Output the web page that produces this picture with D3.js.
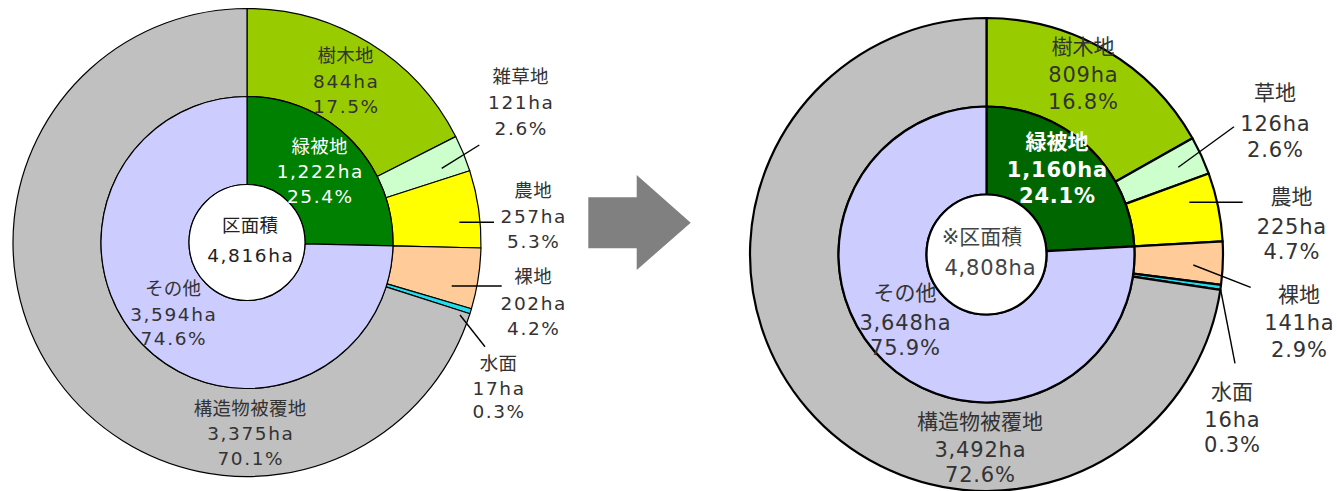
<!DOCTYPE html>
<html><head><meta charset="utf-8">
<script src="https://cdn.jsdelivr.net/npm/d3@7"></script>
<style>html,body{margin:0;padding:0;background:#fff;}svg{display:block;}</style>
</head><body><svg id="chart" width="1337" height="491"></svg>
<script>
// ---- data ----
const outerCategoriesL = ["樹木地","雑草地","農地","裸地","水面","構造物被覆地"];
const outerValuesL = [844,121,257,202,17,3375];
const outerPctL = ["17.5%","2.6%","5.3%","4.2%","0.3%","70.1%"];
const innerCategoriesL = ["緑被地","その他"];
const innerValuesL = [1222,3594];
const innerPctL = ["25.4%","74.6%"];
const totalLabelL = "区面積";
const totalL = 4816;

const outerCategoriesR = ["樹木地","草地","農地","裸地","水面","構造物被覆地"];
const outerValuesR = [809,126,225,141,16,3492];
const outerPctR = ["16.8%","2.6%","4.7%","2.9%","0.3%","72.6%"];
const innerCategoriesR = ["緑被地","その他"];
const innerValuesR = [1160,3648];
const innerPctR = ["24.1%","75.9%"];
const totalLabelR = "※区面積";
const totalR = 4808;

// ---- styles / layout ----
const outerColors = ["#99CC00","#CCFFCC","#FFFF00","#FFCC99","#22DDEE","#C0C0C0"];
const innerColorsL = ["#008000","#CCCCFF"];
const innerColorsR = ["#006600","#CCCCFF"];

const svg = d3.select("#chart");
const fmt = d3.format(",");
const pie = d3.pie().sort(null).value(d => d);

function drawDonut(cfg){
  const g = svg.append("g").attr("transform", `translate(${cfg.cx},${cfg.cy})`);
  const outerArc = d3.arc().innerRadius(cfg.r1).outerRadius(cfg.r2);
  const innerArc = d3.arc().innerRadius(cfg.r0).outerRadius(cfg.r1);
  g.selectAll("path.o").data(pie(cfg.outerVals)).join("path").attr("class","o")
    .attr("d", outerArc).attr("fill", (d,i)=>outerColors[i])
    .attr("stroke","#000").attr("stroke-width",cfg.sw).attr("stroke-linejoin","round");
  g.selectAll("path.i").data(pie(cfg.innerVals)).join("path").attr("class","i")
    .attr("d", innerArc).attr("fill", (d,i)=>cfg.innerColors[i])
    .attr("stroke","#000").attr("stroke-width",cfg.sw).attr("stroke-linejoin","round");
  g.append("circle").attr("r", cfg.r0).attr("fill","#fff").attr("stroke","#000").attr("stroke-width",cfg.sw);

  // leader lines
  cfg.leaders.forEach(l => {
    g.append("line").attr("x1",l[0]).attr("y1",l[1]).attr("x2",l[2]).attr("y2",l[3])
      .attr("stroke","#000").attr("stroke-width",1.4);
  });

  function label(x, ys, lines, opts, firstIsKanji){
    const t = g.append("text").attr("text-anchor","middle")
      .attr("font-family","'DejaVu Sans','Noto Sans CJK JP',sans-serif")
      .attr("font-size", cfg.fs)
      .attr("fill", opts && opts.fill || "#333")
      .attr("font-weight", opts && opts.bold ? "bold" : "normal");
    lines.forEach((s,i) => {
      const ls = (i===0 && firstIsKanji) ? cfg.lsK : cfg.lsN;
      t.append("tspan").attr("x", x + ls/2).attr("y", ys[i]).attr("letter-spacing", ls)
        .attr("dominant-baseline","central").text(s);
    });
  }
  cfg.outerCats.forEach((c,i) => {
    const p = cfg.outerLabelPos[i];
    label(p[0], p.slice(1), [c, fmt(cfg.outerVals[i])+"ha", cfg.outerPct[i]], null, true);
  });
  cfg.innerCats.forEach((c,i) => {
    const p = cfg.innerLabelPos[i];
    label(p[0], p.slice(1), [c, fmt(cfg.innerVals[i])+"ha", cfg.innerPct[i]],
      i===0 ? {fill:"#fff", bold:cfg.boldGreen} : null, true);
  });
  const tp = cfg.totalPos;
  label(tp[0], [tp[1]], [cfg.totalLabel], {fill: cfg.totalColor}, true);
  label(tp[2], [tp[3]], [fmt(cfg.total)+"ha"], {fill: cfg.totalColor}, false);
}

drawDonut({
  cx:247, cy:242.5, r0:58, r1:146, r2:234, sw:1.2, fs:18.5, lsK:0.3, lsN:1.6, boldGreen:false,
  outerCats:outerCategoriesL, outerVals:outerValuesL, outerPct:outerPctL,
  innerCats:innerCategoriesL, innerVals:innerValuesL, innerPct:innerPctL,
  innerColors:innerColorsL, totalLabel:totalLabelL, total:totalL, totalColor:"#222",
  outerLabelPos:[[98.5,-187.5,-161.5,-136.5],[273.5,-165.8,-139.8,-114.2],[286,-51.8,-26.3,-0.8],
                 [286,34.2,60.5,85.5],[251.3,120.5,145.5,169.2],[3,165.5,190.5,215.5]],
  innerLabelPos:[[72.5,-95.8,-70.8,-46.5],[-74,45.5,71.5,95.5]],
  totalPos:[3,-17.5,3,12.5],
  leaders:[[194.7,-74.2,232.3,-97.5],[212.3,-20.2,247,-20.2],[204.7,43.5,254.7,43.5],[213,72.5,238,104.2]]
});

drawDonut({
  cx:986.5, cy:254.5, r0:60, r1:148, r2:236.5, sw:2.2, fs:21, lsK:0, lsN:0.8, boldGreen:true,
  outerCats:outerCategoriesR, outerVals:outerValuesR, outerPct:outerPctR,
  innerCats:innerCategoriesR, innerVals:innerValuesR, innerPct:innerPctR,
  innerColors:innerColorsR, totalLabel:totalLabelR, total:totalR, totalColor:"#444",
  outerLabelPos:[[96.5,-207.8,-179.5,-152.8],[288.5,-161.2,-130.5,-104.5],[305,-57.8,-27.8,-2.8],
                 [312.5,40.5,68.8,95.5],[245.5,137.2,165.5,190.5],[-6.5,167.2,195.5,220.5]],
  innerLabelPos:[[70.5,-112.8,-84.5,-58.5],[-81.5,38.8,68.8,93.8]],
  totalPos:[-4.5,-17.8,3.5,13.8],
  leaders:[[191.8,-87.2,247.5,-127.8],[202.8,-52.2,256.2,-52.2],[206.8,10.5,264.2,32.8],[234.2,35.5,248.5,108.8]]
});

// arrow
const arrowPts = [[588.3,197.3],[636.7,197.3],[636.7,175],[690.7,222.7],[636.7,270],[636.7,248.3],[588.3,248.3]];
svg.append("path").attr("d", d3.line()(arrowPts) + "Z").attr("fill","#808080");
</script></body></html>
